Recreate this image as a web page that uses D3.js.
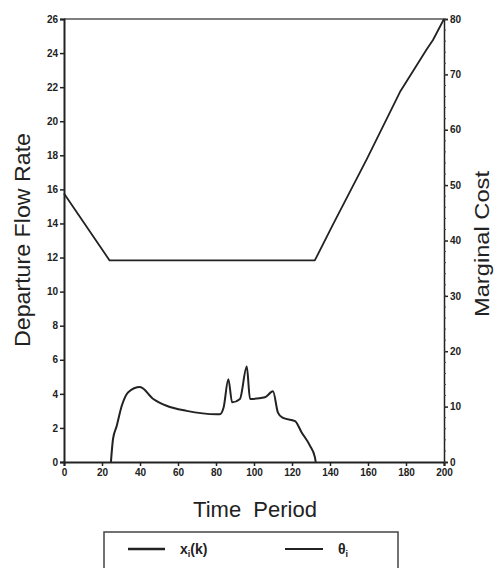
<!DOCTYPE html>
<html>
<head>
<meta charset="utf-8">
<script src="https://cdnjs.cloudflare.com/ajax/libs/d3/7.8.5/d3.min.js"></script>
<style>
  html, body { margin: 0; padding: 0; background: #fff; }
  svg { display: block; font-family: "Liberation Sans", Arial, Helvetica, sans-serif; }
  .tick text { font-weight: bold; font-size: 10px; fill: #222; }
</style>
</head>
<body>
<svg id="chart" width="495" height="568"></svg>
<script>
// Departure flow rate (left axis) over time period
const flowTime = [24.7, 25.8, 27.7, 30.4, 33.8, 40, 47, 54, 64.5, 80.4, 82, 84, 86.5, 88.5, 92.6, 96.2, 97.9, 105.8, 110, 112.6, 115, 121.6, 125, 129.5, 132, 132.5];
const flowValue = [0, 1.35, 2.1, 3.3, 4.1, 4.4, 3.7, 3.3, 3.0, 2.8, 2.8, 3.2, 4.85, 3.5, 3.7, 5.6, 3.7, 3.8, 4.15, 2.9, 2.6, 2.4, 1.75, 0.95, 0.3, 0];

// Marginal cost (right axis) over time period
const costTime = [0, 24, 132, 141.6, 159.5, 176.8, 191, 194.2, 200];
const costValue = [48.5, 36.4, 36.4, 42.9, 54.8, 66.8, 74.6, 76.2, 80];

// Axis ticks
const timeTicks = [0, 20, 40, 60, 80, 100, 120, 140, 160, 180, 200];
const flowTicks = [0, 2, 4, 6, 8, 10, 12, 14, 16, 18, 20, 22, 24, 26];
const costTicks = [0, 10, 20, 30, 40, 50, 60, 70, 80];

const svg = d3.select("#chart");
const ink = "#222";

const x = d3.scaleLinear().domain([0, 200]).range([64, 444]);
const yFlow = d3.scaleLinear().domain([0, 26]).range([462, 19]);
const yCost = d3.scaleLinear().domain([0, 80]).range([462, 19]);

// frame top edge
svg.append("line")
  .attr("x1", x(0)).attr("x2", x(200))
  .attr("y1", yFlow(26)).attr("y2", yFlow(26))
  .attr("stroke", "#555").attr("stroke-width", 1.5);

// axes
const xAxis = svg.append("g")
  .attr("transform", `translate(0,${yFlow(0)})`)
  .call(d3.axisBottom(x).tickValues(timeTicks).tickSize(4).tickPadding(3));

const leftAxis = svg.append("g")
  .attr("transform", `translate(${x(0)},0)`)
  .call(d3.axisLeft(yFlow).tickValues(flowTicks).tickSize(4).tickPadding(2));

const rightAxis = svg.append("g")
  .attr("transform", `translate(${x(200)},0)`)
  .call(d3.axisRight(yCost).tickValues(costTicks).tickSize(4).tickPadding(2));

// minor ticks on the cost axis
svg.append("g")
  .attr("transform", `translate(${x(200)},0)`)
  .selectAll("line")
  .data(d3.range(0, 81, 2))
  .join("line")
  .attr("x1", 0).attr("x2", 2)
  .attr("y1", d => yCost(d)).attr("y2", d => yCost(d))
  .attr("stroke", "#444").attr("stroke-width", 1);

[xAxis, leftAxis, rightAxis].forEach(g => {
  g.select(".domain").attr("stroke", ink).attr("stroke-width", 2);
  g.selectAll(".tick line").attr("stroke", ink).attr("stroke-width", 1.5);
  g.attr("font-family", null).attr("font-size", null);
});
rightAxis.select(".domain").attr("stroke-width", 1.5);

// series
const flowLine = d3.line()
  .x((d, i) => x(flowTime[i]))
  .y(d => yFlow(d))
  .curve(d3.curveMonotoneX);

const costLine = d3.line()
  .x((d, i) => x(costTime[i]))
  .y(d => yCost(d));

svg.append("path")
  .attr("d", costLine(costValue))
  .attr("fill", "none").attr("stroke", ink).attr("stroke-width", 1.8)
  .attr("stroke-linejoin", "round");

svg.append("path")
  .attr("d", flowLine(flowValue))
  .attr("fill", "none").attr("stroke", ink).attr("stroke-width", 2);

// axis titles
svg.append("text")
  .attr("transform", "translate(30,240) rotate(-90)")
  .attr("text-anchor", "middle")
  .attr("font-size", 22).attr("fill", ink)
  .attr("textLength", 214).attr("lengthAdjust", "spacingAndGlyphs")
  .text("Departure Flow Rate");

svg.append("text")
  .attr("transform", "translate(489,244) rotate(-90)")
  .attr("text-anchor", "middle")
  .attr("font-size", 21).attr("fill", ink)
  .attr("textLength", 146).attr("lengthAdjust", "spacingAndGlyphs")
  .text("Marginal Cost");

svg.append("text")
  .attr("x", 255).attr("y", 517)
  .attr("text-anchor", "middle")
  .attr("font-size", 22).attr("fill", ink)
  .attr("xml:space", "preserve")
  .text("Time  Period");

// legend
const legend = svg.append("g");
legend.append("rect")
  .attr("x", 104).attr("y", 532).attr("width", 294).attr("height", 50)
  .attr("fill", "none").attr("stroke", "#444").attr("stroke-width", 1.5);

legend.append("line")
  .attr("x1", 128).attr("x2", 165).attr("y1", 549).attr("y2", 549)
  .attr("stroke", ink).attr("stroke-width", 2.5);
const t1 = legend.append("text")
  .attr("x", 180).attr("y", 554)
  .attr("font-size", 14).attr("font-weight", "bold").attr("fill", ink);
t1.append("tspan").text("x");
t1.append("tspan").attr("font-size", 9).attr("dy", 3).text("i");
t1.append("tspan").attr("dy", -3).text("(k)");

legend.append("line")
  .attr("x1", 285).attr("x2", 323).attr("y1", 549).attr("y2", 549)
  .attr("stroke", ink).attr("stroke-width", 1.8);
const t2 = legend.append("text")
  .attr("x", 338).attr("y", 554)
  .attr("font-size", 14).attr("font-weight", "bold").attr("fill", ink);
t2.append("tspan").text("θ");
t2.append("tspan").attr("font-size", 9).attr("dy", 3).text("i");
</script>
</body>
</html>
